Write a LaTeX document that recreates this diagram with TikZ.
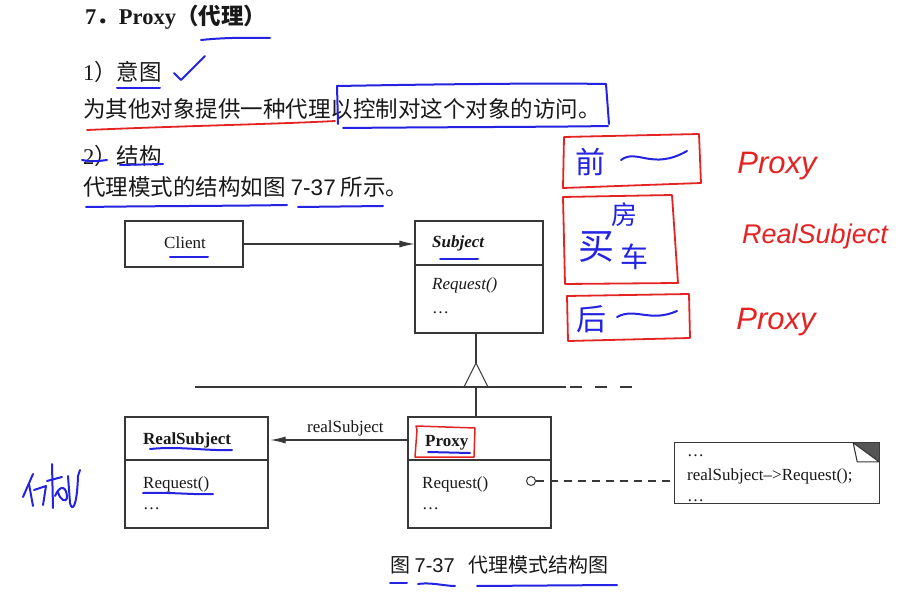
\documentclass[tikz,border=0pt]{standalone}
\usepackage{fontspec}
\setmainfont{Liberation Serif}
\newfontfamily\cjk{Noto Sans CJK SC}
\newfontfamily\sansf{Liberation Sans}
\usetikzlibrary{arrows.meta,calc}
\definecolor{pen}{RGB}{35,35,225}
\definecolor{redpen}{RGB}{228,35,35}
\definecolor{ln}{RGB}{55,55,55}
\definecolor{txt}{RGB}{25,25,25}
\tikzset{
  umlbox/.style={draw=ln, line width=1.1pt, rectangle, inner sep=0pt},
  body/.style={anchor=base west, inner sep=0pt, text=txt, font=\cjk\fontsize{22.5}{26}\selectfont},
  dtext/.style={anchor=base west, inner sep=0pt, text=txt, font=\fontsize{17}{20}\selectfont},
  conn/.style={draw=ln, line width=1.1pt},
  arr/.style={-{Latex[length=15pt,width=7pt]}},
  bluepen/.style={draw=pen, line width=2pt, line cap=round, line join=round},
  redpenline/.style={draw=redpen, line width=1.8pt, line cap=round, line join=round},
  handblue/.style={text=pen, inner sep=0pt, font=\cjk\fontsize{30}{32}\selectfont},
  handred/.style={text=redpen, inner sep=0pt, font=\sansf\itshape\fontsize{27}{30}\selectfont},
}
\begin{document}
\begin{tikzpicture}[x=1pt,y=-1pt]
\useasboundingbox[fill=white] (0,0) rectangle (903,596);

% ---------- heading text ----------
\node[body, font=\fontsize{22.5}{26}\selectfont\bfseries] (title) at (85,25)
  {7{\cjk ．}Proxy{\cjk\bfseries （代理）}};
\node[body] (intent) at (83,81) {{\rmfamily 1}）意图};
\node[body] (intenttext) at (83,118) {为其他对象提供一种代理以控制对这个对象的访问。};
\node[body] (struct) at (83,165) {{\rmfamily 2}）结构};
\node[body] (structtext) at (83,196) {代理模式的结构如图 {\sansf 7-37} 所示。};

% ---------- UML boxes ----------
\node[umlbox, minimum width=118pt, minimum height=46pt] (client) at (184,244) {};
\node[dtext, anchor=base] (clientlbl) at (185,249) {Client};

\node[umlbox, minimum width=128pt, minimum height=112pt] (subject) at (479,277) {};
\draw[conn] (415,265) -- (543,265);
\node[dtext] (subjlbl) at (432,248) {\bfseries\itshape Subject};
\node[dtext] (subjreq) at (432,290) {\itshape Request()};
\node[dtext] (subjdots) at (432,313) {…};

\node[umlbox, minimum width=143pt, minimum height=111pt] (real) at (196.5,472.5) {};
\draw[conn] (125,460) -- (268,460);
\node[dtext] (reallbl) at (143,444) {\bfseries RealSubject};
\node[dtext] (realreq) at (143,488) {Request()};
\node[dtext] (realdots) at (143,509) {…};

\node[umlbox, minimum width=143pt, minimum height=111pt] (proxy) at (479.5,472.5) {};
\draw[conn] (408,460) -- (551,460);
\node[dtext] (proxylbl) at (425,446) {\bfseries Proxy};
\node[dtext] (proxyreq) at (422,488) {Request()};
\node[dtext] (proxydots) at (422,509) {…};
\node[draw=ln, line width=1pt, circle, minimum size=9pt, inner sep=0pt] (circ) at (531,481) {};

% note with folded corner
\node[minimum width=204pt, minimum height=60pt, inner sep=0pt] (note) at (777,473) {};
\draw[conn] (note.south west) rectangle (note.north east);
\fill[ln!85] ($(note.north east)+(-26,0)$) -- (note.north east) -- ($(note.north east)+(0,19)$) -- cycle;
\draw[conn, line join=round] ($(note.north east)+(-26,0)$) -- ($(note.north east)+(-22,19)$) -- ($(note.north east)+(0,19)$) -- cycle;
\node[dtext] (notedots1) at (687,456) {…};
\node[dtext] (notecall) at (687,480) {realSubject–>Request();};
\node[dtext] (notedots2) at (687,501) {…};

% ---------- connectors ----------
\draw[conn, arr] (client.east) -- (client.east -| subject.west);
\coordinate (apex) at (476,363);
\coordinate (tribase) at (476,387);
\draw[conn] (subject.south -| apex) -- (apex);
\draw[conn, line join=miter] (apex) -- (464,387) -- (488,387) -- cycle;
\draw[conn] (tribase) -- (proxy.north -| tribase);
\coordinate (hl) at (195,387);
\coordinate (hm) at (566,387);
\coordinate (hr) at (633,387);
\draw[conn] (hl) -- (hm);
\draw[conn, dash pattern=on 12pt off 13pt] ($(hm)+(4,0)$) -- (hr);
\coordinate (lvl) at (0,440);
\draw[conn, arr] (lvl -| proxy.west) -- ($(lvl -| real.east)+(2,0)$);
\node[dtext] (reallink) at (307,432) {realSubject};
\draw[conn, dash pattern=on 8pt off 6pt] (circ.east) -- (circ.east -| note.west);

% ---------- caption ----------
\node[body, font=\cjk\fontsize{20}{24}\selectfont] (caption) at (390,572) {图 {\sansf 7-37}\hspace{14pt}代理模式结构图};

% ---------- handwritten blue marks ----------
\draw[bluepen] (201,40) .. controls (230,37) and (250,38) .. (270,38);
\draw[bluepen] (174,73) -- (181,80) -- (205,56);
\draw[bluepen] (117,88) -- (160,88);
\draw[redpenline] (87,130) .. controls (180,126) and (280,124) .. (335,121);
\draw[bluepen] (338,124) -- (337,86) .. controls (450,84) and (550,83) .. (606,84) -- (609,124);
\draw[bluepen] (343,128) .. controls (450,127) and (550,127) .. (608,126);
\draw[bluepen] (82,160) .. controls (92,162) and (100,161) .. (107,160);
\draw[bluepen] (120,165) -- (163,164);
\draw[bluepen] (86,207) .. controls (150,206) and (230,206) .. (287,205);
\draw[bluepen] (298,207) -- (383,206);
\draw[bluepen] (170,257) -- (208,257);
\draw[bluepen] (440,259) -- (478,259);
\draw[bluepen] (150,449) .. controls (180,446) and (205,451) .. (232,450);
\draw[bluepen] (143,493) .. controls (170,492) and (195,495) .. (213,494);
\draw[bluepen] (428,452) -- (470,453);
\draw[redpenline, line width=1.5pt] (417,430) -- (416,426) -- (475,428) -- (474,457) -- (415,457) -- (417,430);
\draw[bluepen] (390,583) -- (407,583);
\draw[bluepen] (418,584) .. controls (430,582) and (445,586) .. (455,586);
\draw[bluepen] (477,586) -- (617,585);

% bottom-left scribble
\draw[bluepen] (33,474) -- (23,497);
\draw[bluepen] (29,484) -- (33,506);
\draw[bluepen] (34,490) -- (46,486) -- (43,505);
\draw[bluepen] (52,464) -- (53,508);
\draw[bluepen] (47,481) -- (62,477);
\draw[bluepen] (55,496) .. controls (60,484) and (67,486) .. (67,498) .. controls (66,503) and (60,500) .. (58,492);
\draw[bluepen] (68,476) -- (70,503) .. controls (72,512) and (77,508) .. (78,476) -- (80,470);

% ---------- handwritten right side ----------
\draw[redpenline] (564,137) -- (699,134) -- (701,183) -- (563,188) -- cycle;
\node[handblue] (qian) at (590,162) {前};
\draw[bluepen] (621,160) .. controls (637,148) and (652,171) .. (687,151);
\draw[redpenline] (563,197) -- (672,195) -- (678,283) -- (565,284) -- cycle;
\node[handblue, font=\cjk\fontsize{36}{38}\selectfont] (mai) at (596,247) {买};
\node[handblue, font=\cjk\fontsize{26}{28}\selectfont] (fang) at (624,215) {房};
\node[handblue, font=\cjk\fontsize{28}{30}\selectfont] (che) at (634,257) {车};
\draw[redpenline] (567,296) -- (689,294) -- (690,338) -- (568,341) -- cycle;
\node[handblue] (hou) at (591,319) {后};
\draw[bluepen] (617,317) .. controls (635,307) and (650,323) .. (677,311);
\node[handred, font=\sansf\itshape\fontsize{31}{34}\selectfont] (hp1) at (777,166) {Proxy};
\node[handred] (hrs) at (815,237) {RealSubject};
\node[handred, font=\sansf\itshape\fontsize{31}{34}\selectfont] (hp2) at (776,322) {Proxy};
\end{tikzpicture}
\end{document}
